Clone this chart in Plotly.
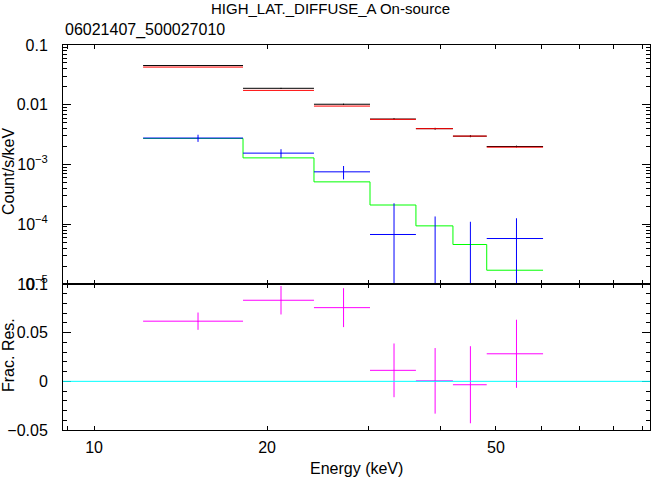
import numpy as np
import plotly.graph_objects as go

# ---- data ----
e_lo = [12.17, 18.16, 24.13, 30.2, 36.3, 42.1, 48.2]
e_hi = [18.16, 24.13, 30.2, 36.3, 42.1, 48.2, 60.4]

src_data = [0.0453, 0.01885, 0.0102, 0.00576, 0.00398, 0.00298, 0.0020]
src_err = [0.00038, 0.000254, 0.00019, 0.000157, 0.000134, 0.000118, 0.0000683]
src_model = [0.0427, 0.0174, 0.0095, 0.0057, 0.00398, 0.00299, 0.00195]

sub_data = [0.00277, 0.00155, 0.000754, 6.74e-5, 1e-6, -8e-6, 5.77e-5]
sub_err = [0.00038, 0.000254, 0.00019, 0.000157, 0.000134, 0.000118, 0.0000683]
sub_model = [0.00273, 0.00129, 0.000512, 2.1e-4, 9.4e-5, 4.58e-5, 1.7e-5]

frac_res = [0.0618, 0.0833, 0.0757, 0.0113, 0.0005, -0.0035, 0.0283]
frac_err = [0.0089, 0.0146, 0.020, 0.0276, 0.0337, 0.0396, 0.035]

x_range = [8.83, 92.7]
ytop_ticks = [0.1, 0.01, 1e-3, 1e-4, 1e-5]
ytop_text = ["0.1", "0.01", "10<sup>−3</sup>", "10<sup>−4</sup>", "10<sup>−5</sup>"]
ybot_ticks = [-0.05, 0, 0.05, 0.1]
ybot_text = ["−0.05", "0", "0.05", "0.1"]
x_ticks = [10, 20, 50]
x_text = ["10", "20", "50"]

title_text = "HIGH_LAT._DIFFUSE_A On-source"
subtitle_text = "06021407_500027010"

# ---- derived ----
lo = np.array(e_lo)
hi = np.array(e_hi)
ctr = (lo + hi) / 2
half = (hi - lo) / 2

FONT = "Liberation Sans, Arial, Helvetica, sans-serif"

fig = go.Figure()

# black: source data
fig.add_trace(go.Scatter(
    x=ctr, y=src_data, mode="markers", marker=dict(size=1, color="black"),
    error_x=dict(type="data", array=half, color="black", thickness=1, width=0),
    error_y=dict(type="data", array=src_err, color="black", thickness=1, width=0),
    xaxis="x", yaxis="y", showlegend=False))

# red: model (separate horizontal segments)
rx, ry = [], []
for a, b, m in zip(e_lo, e_hi, src_model):
    rx += [a, b, None]
    ry += [m, m, None]
fig.add_trace(go.Scatter(x=rx, y=ry, mode="lines", line=dict(color="#ff0000", width=1),
                         xaxis="x", yaxis="y", showlegend=False))

# green: model component as a step histogram
fig.add_trace(go.Scatter(x=list(e_lo) + [e_hi[-1]], y=list(sub_model) + [sub_model[-1]],
                         mode="lines", line=dict(color="#00ff00", width=1, shape="hv"),
                         xaxis="x", yaxis="y", showlegend=False))

# blue: subtracted data (values below the log range are clipped to a tiny positive value)
sd = np.array(sub_data)
se = np.array(sub_err)
sy = np.maximum(sd, 1e-7)
fig.add_trace(go.Scatter(
    x=ctr, y=sy, mode="markers", marker=dict(size=1, color="#0000ff"),
    error_x=dict(type="data", array=half, color="#0000ff", thickness=1, width=0),
    error_y=dict(type="data", symmetric=False, array=sd + se - sy, arrayminus=se - (sd - sy),
                 color="#0000ff", thickness=1, width=0),
    xaxis="x", yaxis="y", showlegend=False))

# magenta: fractional residuals
fig.add_trace(go.Scatter(
    x=ctr, y=frac_res, mode="markers", marker=dict(size=1, color="#ff00ff"),
    error_x=dict(type="data", array=half, color="#ff00ff", thickness=1, width=0),
    error_y=dict(type="data", array=frac_err, color="#ff00ff", thickness=1, width=0),
    xaxis="x2", yaxis="y2", showlegend=False))

split = 146 / 385.0
lr = [np.log10(x_range[0]), np.log10(x_range[1])]
x_minor = [9, 30, 40, 60, 70, 80, 90]
ytop_minor = [k * 10.0 ** p for p in range(-5, -1) for k in range(2, 10)]
ybot_minor = [round(v, 2) for v in np.arange(-0.04, 0.1, 0.01) if abs(round(v, 2) * 100) % 5 != 0]

axis_common = dict(showline=True, linecolor="black", linewidth=1, mirror="ticks",
                   ticks="inside", tickcolor="black", tickwidth=1, showgrid=False,
                   zeroline=False, tickfont=dict(family=FONT, size=16, color="black"))

fig.update_layout(
    width=652, height=480,
    margin=dict(l=63, r=2, t=45, b=50),
    paper_bgcolor="white", plot_bgcolor="white",
    font=dict(family=FONT, size=16, color="black"),
    xaxis=dict(type="log", range=lr, anchor="y", domain=[0, 1],
               tickmode="array", tickvals=x_ticks, ticktext=x_text, ticklen=4,
               showticklabels=False,
               minor=dict(tickmode="array", tickvals=x_minor, ticklen=4, ticks="inside",
                          tickcolor="black", tickwidth=1),
               **axis_common),
    yaxis=dict(type="log", range=[-5, -1], anchor="x", domain=[split, 1],
               tickmode="array", tickvals=ytop_ticks, ticktext=ytop_text, ticklen=8,
               ticklabelstandoff=11,
               minor=dict(tickmode="array", tickvals=ytop_minor, ticklen=4, ticks="inside",
                          tickcolor="black", tickwidth=1),
               **axis_common),
    xaxis2=dict(type="log", range=lr, anchor="y2", domain=[0, 1],
                tickmode="array", tickvals=x_ticks, ticktext=x_text, ticklen=4,
                ticklabelstandoff=3,
                minor=dict(tickmode="array", tickvals=x_minor, ticklen=4, ticks="inside",
                           tickcolor="black", tickwidth=1),
                **axis_common),
    yaxis2=dict(range=[-0.05, 0.1], anchor="x2", domain=[0, split],
                tickmode="array", tickvals=ybot_ticks, ticktext=ybot_text, ticklen=8,
                ticklabelstandoff=11,
                minor=dict(tickmode="array", tickvals=ybot_minor, ticklen=4, ticks="inside",
                           tickcolor="black", tickwidth=1),
                **axis_common),
    shapes=[dict(type="line", xref="paper", x0=0, x1=1, yref="y2", y0=0, y1=0,
                 line=dict(color="#00ffff", width=1))],
    annotations=[
        dict(text=title_text, xref="paper", yref="paper", x=(330 - 63) / 587, y=(430 - 8) / 385,
             xanchor="center", yanchor="middle", showarrow=False, font=dict(size=15)),
        dict(text=subtitle_text, xref="paper", yref="paper", x=0, y=(430 - 30) / 385,
             xanchor="left", yanchor="middle", showarrow=False, font=dict(size=16)),
        dict(text="Count/s/keV", xref="paper", yref="paper", x=(8 - 63) / 587, y=(430 - 172) / 385,
             xanchor="center", yanchor="middle", textangle=-90, showarrow=False),
        dict(text="Frac. Res.", xref="paper", yref="paper", x=(8 - 63) / 587, y=(430 - 355) / 385,
             xanchor="center", yanchor="middle", textangle=-90, showarrow=False),
        dict(text="Energy (keV)", xref="paper", yref="paper", x=0.5, y=(430 - 468) / 385,
             xanchor="center", yanchor="middle", showarrow=False),
    ],
)

fig.write_html("out.html", config={"displayModeBar": False},
               post_script="document.body.style.margin='0';document.body.style.overflow='hidden';")
